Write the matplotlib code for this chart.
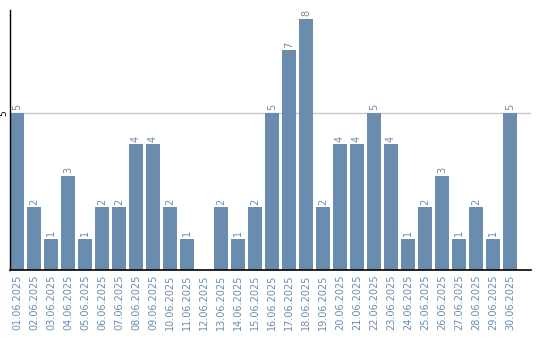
import matplotlib
matplotlib.use("Agg")
import matplotlib.pyplot as plt

days = [f"{d:02d}.06.2025" for d in range(1, 31)]
counts = [5, 2, 1, 3, 1, 2, 2, 4, 4, 2, 1, 0, 2, 1, 2,
          5, 7, 8, 2, 4, 4, 5, 4, 1, 2, 3, 1, 2, 1, 5]

BAR = "#6a8caf"

fig = plt.figure(figsize=(5.4, 3.4), dpi=100)
ax = fig.add_axes([10 / 540, 70 / 340, 521 / 540, 260 / 340])

x = list(range(len(days)))
ax.bar(x, counts, width=0.82, color=BAR, zorder=2)
for xi, c in zip(x, counts):
    if c > 0:
        ax.text(xi, c + 0.08, str(c), rotation=90, ha="center", va="bottom",
                fontsize=7, color=BAR)

ax.set_xlim(-0.41, 30.24)
ax.set_ylim(0, 8.28)
ax.set_yticks([5])
ax.set_yticklabels(["5"], rotation=90, va="center", ha="right", fontsize=6.5)
ax.tick_params(axis="y", length=0, pad=1)
ax.yaxis.grid(True, color="#c8c8c8", lw=1, zorder=0)
ax.set_xticks(x)
ax.set_xticklabels(days, rotation=90, fontsize=7, color=BAR)
ax.tick_params(axis="x", length=0, pad=3)
for s in ("top", "right"):
    ax.spines[s].set_visible(False)
ax.spines["left"].set_linewidth(1)
ax.spines["bottom"].set_linewidth(1.2)

fig.savefig("out.png", dpi=100)
